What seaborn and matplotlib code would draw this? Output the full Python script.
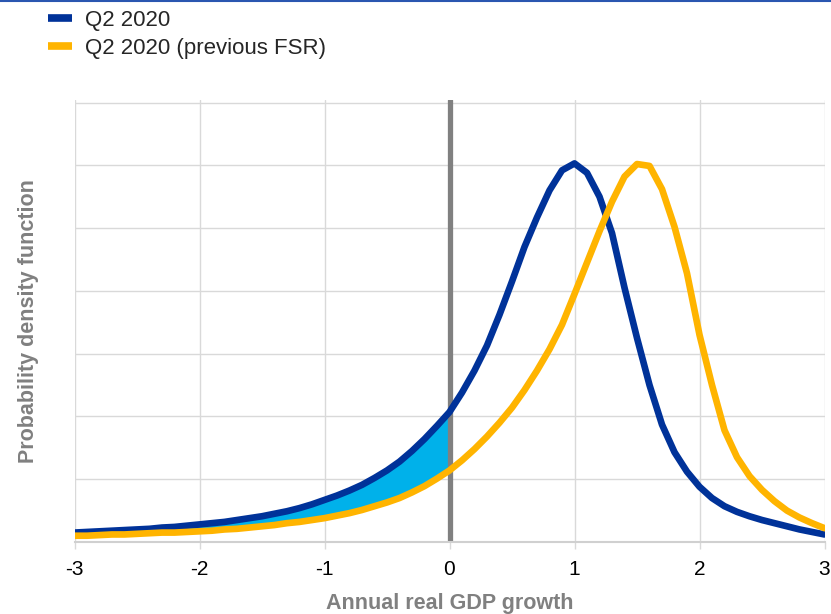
import numpy as np
import pandas as pd
import seaborn as sns
import matplotlib.pyplot as plt
from matplotlib.lines import Line2D

# GDP growth grid and density values
growth = np.round(np.arange(-3.0, 3.01, 0.1), 1)

q2_2020 = [0.15, 0.16, 0.17, 0.18, 0.19, 0.20, 0.21, 0.23, 0.24, 0.26,
           0.28, 0.30, 0.32, 0.35, 0.38, 0.41, 0.45, 0.49, 0.54, 0.60,
           0.67, 0.74, 0.82, 0.91, 1.02, 1.14, 1.28, 1.45, 1.64, 1.85,
           2.07, 2.38, 2.73, 3.13, 3.62, 4.15, 4.70, 5.17, 5.60, 5.92,
           6.03, 5.88, 5.50, 4.92, 4.05, 3.25, 2.50, 1.87, 1.43, 1.12,
           0.88, 0.70, 0.57, 0.48, 0.41, 0.35, 0.30, 0.25, 0.20, 0.16,
           0.12]

q2_2020_prev = [0.10, 0.10, 0.11, 0.12, 0.12, 0.13, 0.14, 0.15, 0.15, 0.16,
                0.17, 0.18, 0.20, 0.21, 0.23, 0.25, 0.27, 0.30, 0.32, 0.35,
                0.38, 0.42, 0.46, 0.51, 0.57, 0.63, 0.70, 0.79, 0.89, 1.01,
                1.14, 1.30, 1.48, 1.68, 1.90, 2.14, 2.42, 2.73, 3.07, 3.46,
                3.95, 4.45, 4.95, 5.42, 5.82, 6.02, 5.99, 5.62, 5.02, 4.28,
                3.30, 2.50, 1.78, 1.35, 1.05, 0.83, 0.65, 0.50, 0.39, 0.30,
                0.22]

series_names = ['Q2 2020', 'Q2 2020 (previous FSR)']
series_colors = ['#003299', '#FFB400']
x_ticks = [-3, -2, -1, 0, 1, 2, 3]
x_tick_labels = ['-3', '-2', '-1', '0', '1', '2', '3']

df = pd.DataFrame({
    'growth': np.concatenate([growth, growth]),
    'density': np.concatenate([q2_2020, q2_2020_prev]),
    'series': [series_names[0]] * len(growth) + [series_names[1]] * len(growth),
})

sns.set_style('whitegrid', {'grid.color': '#d9d9d9', 'axes.edgecolor': '#d9d9d9'})
plt.rcParams['font.family'] = ['Liberation Sans', 'DejaVu Sans']

fig = plt.figure(figsize=(8.31, 6.14), dpi=100)
ax = fig.add_axes([74.5 / 831, 72 / 614, 750 / 831, 442 / 614])

# shaded area between the two densities left of zero growth
left = growth <= 0
ax.fill_between(growth[left], np.array(q2_2020_prev)[left], np.array(q2_2020)[left],
                color='#00B1EA', lw=0, zorder=1)
ax.axvline(0, color='#808080', lw=3.8, zorder=2)

sns.lineplot(data=df, x='growth', y='density', hue='series', palette=series_colors,
             lw=4.8, legend=False, ax=ax, zorder=3)
# previous FSR line drawn on top
ax.get_lines()[-1].set_zorder(4)

ax.set_xlim(-3, 3)
ax.set_ylim(0, 7.04)
ax.set_xticks(x_ticks)
ax.set_xticklabels(x_tick_labels)
ax.set_yticks(np.arange(0, 8, 1))
ax.set_yticklabels([])
ax.tick_params(axis='x', labelsize=15, colors='#d9d9d9', labelcolor='black',
               length=5, width=1, pad=8, bottom=True)
ax.tick_params(axis='y', length=0)
for side in ['top', 'right', 'left']:
    ax.spines[side].set_visible(False)
ax.spines['bottom'].set_color('#d0d0d0')
ax.spines['bottom'].set_linewidth(1.5)
ax.grid(True, color='#d9d9d9', lw=1)

ax.set_xlabel('Annual real GDP growth', fontsize=15.5, fontweight='bold',
              color='#808080', labelpad=10)
ax.set_ylabel('Probability density function', fontsize=15.5, fontweight='bold',
              color='#808080', labelpad=22)

handles = [Line2D([0], [0], color=c, lw=5.5, solid_capstyle='butt') for c in series_colors]
fig.legend(handles, series_names, loc='upper left', bbox_to_anchor=(35 / 831, 1.005),
           frameon=False, fontsize=16, handlelength=1.05, handletextpad=0.6,
           labelspacing=0.3, borderaxespad=0.2)

# thin rule across the top of the figure
fig.add_artist(Line2D([0, 1], [0.999, 0.999], color='#2a56b0', lw=1.5,
                      transform=fig.transFigure))

fig.savefig('out.png', dpi=100)
